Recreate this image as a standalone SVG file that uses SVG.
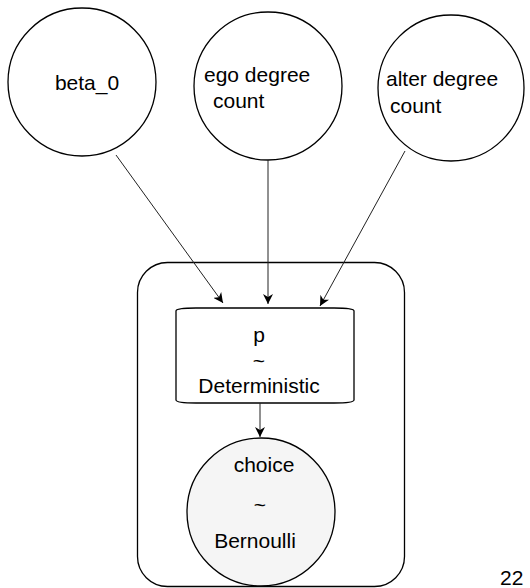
<svg xmlns="http://www.w3.org/2000/svg" width="530" height="588" viewBox="0 0 530 588">
<style>
.n{fill:#fff;stroke:#000;stroke-width:1.3}
.obs{fill:#f5f5f5;stroke:#000;stroke-width:1.3}
.plate{fill:none;stroke:#000;stroke-width:1.3}
.t{font-family:"Liberation Sans",Arial,sans-serif;font-size:21px;fill:#000}
.c{text-anchor:middle}
.e{fill:none;stroke:#222;stroke-width:1}
</style>
<defs>
<marker id="ah" viewBox="0 0 10 10" refX="10" refY="5" markerWidth="10" markerHeight="10" markerUnits="userSpaceOnUse" orient="auto">
<path d="M0,0 L10,5 L0,10 L3,5 Z" fill="#000"/>
</marker>
</defs>
<g id="plate">
<rect class="plate" x="137.5" y="262.5" width="267" height="324" rx="30"/>
</g>
<g id="beta_0">
<circle class="n" cx="82" cy="82" r="74"/>
<text class="t c" x="87" y="90">beta_0</text>
</g>
<g id="ego">
<circle class="n" cx="268" cy="86" r="74"/>
<text class="t" x="204" y="82">ego degree</text>
<text class="t" x="213" y="108">count</text>
</g>
<g id="alter">
<circle class="n" cx="451" cy="88" r="73"/>
<text class="t" x="386" y="86">alter degree</text>
<text class="t" x="390" y="113">count</text>
</g>
<g id="p">
<path class="n" d="M176,311 Q176,308 196,308 L334,308 Q354,308 354,311 L354,400 Q354,403 334,403 L196,403 Q176,403 176,400 Z"/>
<text class="t c" x="259" y="342">p</text>
<text class="t c" x="259" y="368">~</text>
<text class="t c" x="259" y="393">Deterministic</text>
</g>
<g id="choice">
<circle class="obs" cx="261" cy="512" r="74"/>
<text class="t c" x="264" y="472">choice</text>
<text class="t c" x="260" y="512">~</text>
<text class="t c" x="255" y="548">Bernoulli</text>
</g>
<g id="edges">
<line class="e" x1="116" y1="155" x2="223" y2="303" marker-end="url(#ah)"/>
<line class="e" x1="268" y1="160" x2="268" y2="304" marker-end="url(#ah)"/>
<line class="e" x1="405" y1="151" x2="320" y2="306" marker-end="url(#ah)"/>
<line class="e" x1="260" y1="403" x2="260" y2="437" marker-end="url(#ah)"/>
</g>
<text class="t" x="500" y="585" font-size="21">22</text>
</svg>
